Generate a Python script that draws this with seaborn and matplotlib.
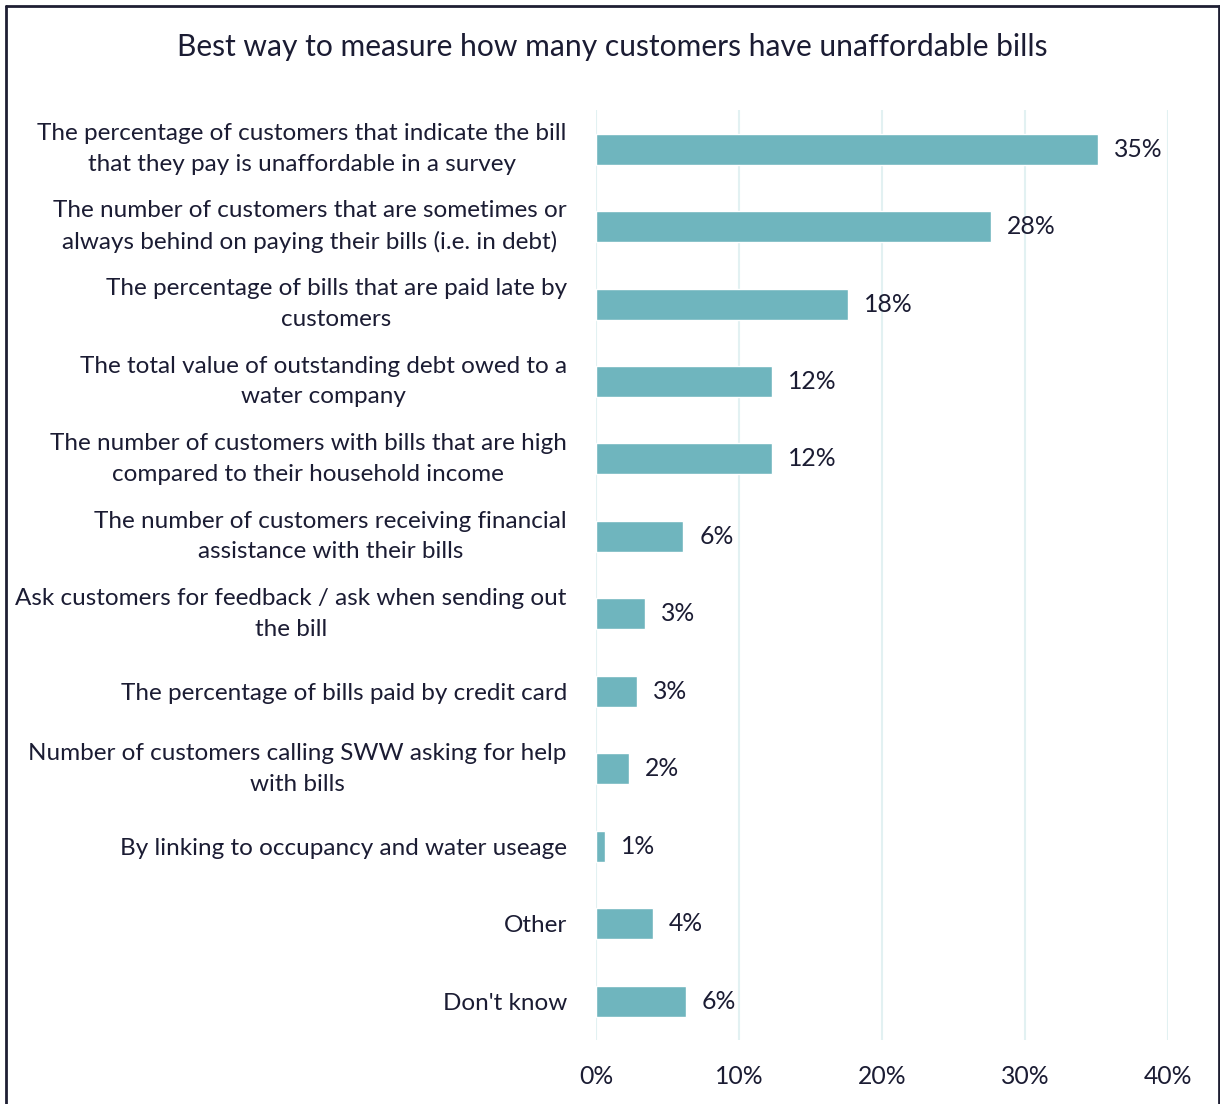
import matplotlib
matplotlib.use("Agg")
import matplotlib.pyplot as plt
from matplotlib.lines import Line2D
import seaborn as sns
import pandas as pd

categories = [
    "The percentage of customers that indicate the bill\nthat they pay is unaffordable in a survey",
    "The number of customers that are sometimes or\nalways behind on paying their bills (i.e. in debt)",
    "The percentage of bills that are paid late by\ncustomers",
    "The total value of outstanding debt owed to a\nwater company",
    "The number of customers with bills that are high\ncompared to their household income",
    "The number of customers receiving financial\nassistance with their bills",
    "Ask customers for feedback / ask when sending out\nthe bill",
    "The percentage of bills paid by credit card",
    "Number of customers calling SWW asking for help\nwith bills",
    "By linking to occupancy and water useage",
    "Other",
    "Don't know",
]
values = [35.1, 27.6, 17.6, 12.3, 12.3, 6.1, 3.4, 2.9, 2.3, 0.6, 4.0, 6.3]
xticks = [0, 10, 20, 30, 40]

TEXT = "#1b1c33"
BAR = "#6fb5be"
GRID = "#e2f1f2"

sns.set_theme(style="white")
plt.rcParams["font.family"] = ["Lato", "DejaVu Sans"]

df = pd.DataFrame({"measure": categories, "share": values})

fig = plt.figure(figsize=(12.2, 11.04), dpi=100)
ax = fig.add_axes([0.4885, 0.058, 0.4689, 0.842])

sns.barplot(data=df, x="share", y="measure", orient="h", color=BAR,
            width=0.4, saturation=1, ax=ax)

ax.set_xlim(0, 40)
ax.set_ylim(11.5, -0.5)
ax.set_xticks(xticks)
ax.set_xticklabels([f"{t}%" for t in xticks])
ax.set_xlabel("")
ax.set_ylabel("")
ax.grid(axis="x", color=GRID, linewidth=1.5)
ax.set_axisbelow(True)
for s in ax.spines.values():
    s.set_visible(False)
ax.tick_params(axis="y", length=0, pad=21, labelsize=17.5, labelcolor=TEXT)
ax.tick_params(axis="x", length=0, pad=18, labelsize=17.8, labelcolor=TEXT)
for lbl in ax.get_yticklabels():
    lbl.set_horizontalalignment("right")
    lbl.set_multialignment("center")
    lbl.set_linespacing(1.55)
    if "\n" in lbl.get_text():
        lbl.set_verticalalignment("center")

ax.bar_label(ax.containers[0], labels=[f"{v:.0f}%" for v in values],
             padding=11.5, fontsize=17.8, color=TEXT)

fig.text(0.5015, 0.957, "Best way to measure how many customers have unaffordable bills",
         ha="center", va="center", fontsize=21.6, color=TEXT)

# outer frame (open at the bottom)
fx0, fx1, fy1 = 5.5 / 1220, 1219 / 1220, 1 - 5.5 / 1104
for xs, ys in [([fx0, fx0], [0, fy1]), ([fx0, fx1], [fy1, fy1]), ([fx1, fx1], [fy1, 0])]:
    fig.add_artist(Line2D(xs, ys, transform=fig.transFigure, color="#1e1f33", linewidth=2))

fig.savefig("out.png", dpi=100)
